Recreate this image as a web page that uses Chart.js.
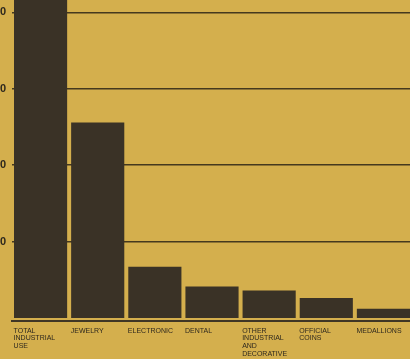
<!DOCTYPE html>
<html>
<head>
<meta charset="utf-8">
<script src="https://cdn.jsdelivr.net/npm/chart.js@4"></script>
<style>
  html, body { margin: 0; padding: 0; background: #d4af4d; overflow: hidden; }
  #wrap { position: absolute; left: -38px; top: 0; width: 450px; height: 359px; }
</style>
</head>
<body>
<div id="wrap"><canvas id="useChart" width="450" height="359"></canvas></div>
<script>
  'use strict';

  // categories (multi-line labels, as printed)
  var categories = [
    ["TOTAL", "INDUSTRIAL", "USE"],
    ["JEWELRY"],
    ["ELECTRONIC"],
    ["DENTAL"],
    ["OTHER", "INDUSTRIAL", "AND", "DECORATIVE"],
    ["OFFICIAL", "COINS"],
    ["MEDALLIONS"]
  ];
  // values
  var consumption = [438, 256, 67, 41, 36, 26, 12];
  // gridline / tick values
  var yTicks = [100, 200, 300, 400];

  var ink = "#3a3226";

  var ctx = document.getElementById("useChart").getContext("2d");
  var useChart = new Chart(ctx, {
    type: "bar",
    data: {
      labels: categories,
      datasets: [{
        label: "Consumption",
        data: consumption,
        backgroundColor: ink,
        borderWidth: 0,
        barPercentage: 0.93,
        categoryPercentage: 1
      }]
    },
    options: {
      responsive: false,
      animation: false,
      devicePixelRatio: 1,
      layout: { padding: 0 },
      plugins: {
        legend: { display: false },
        tooltip: { enabled: false }
      },
      scales: {
        x: {
          grid: { display: false, drawTicks: false },
          border: { display: true, color: "#3f3625", width: 2 },
          ticks: {
            color: "#2e281e",
            font: { family: "'Liberation Sans', Arial, sans-serif", size: 7, lineHeight: 1.1 },
            align: "start",
            labelOffset: -27,
            padding: 6,
            maxRotation: 0,
            autoSkip: false
          },
          afterFit: function (scale) {
            scale.height = 38;
            scale.paddingLeft = 0;
            scale.paddingRight = 0;
          }
        },
        y: {
          min: -4,
          max: 416.2,
          grid: { color: "#45391e", lineWidth: 1.5, drawTicks: false },
          border: { display: false },
          ticks: {
            color: "#2e281e",
            padding: 6,
            font: { family: "'Liberation Sans', Arial, sans-serif", size: 11, weight: "bold" }
          },
          afterBuildTicks: function (scale) {
            scale.ticks = yTicks.map(function (v) { return { value: v }; });
          },
          afterFit: function (scale) {
            scale.width = 50;
            scale.paddingTop = 0;
            scale.paddingBottom = 0;
          }
        }
      }
    }
  });
</script>
</body>
</html>
